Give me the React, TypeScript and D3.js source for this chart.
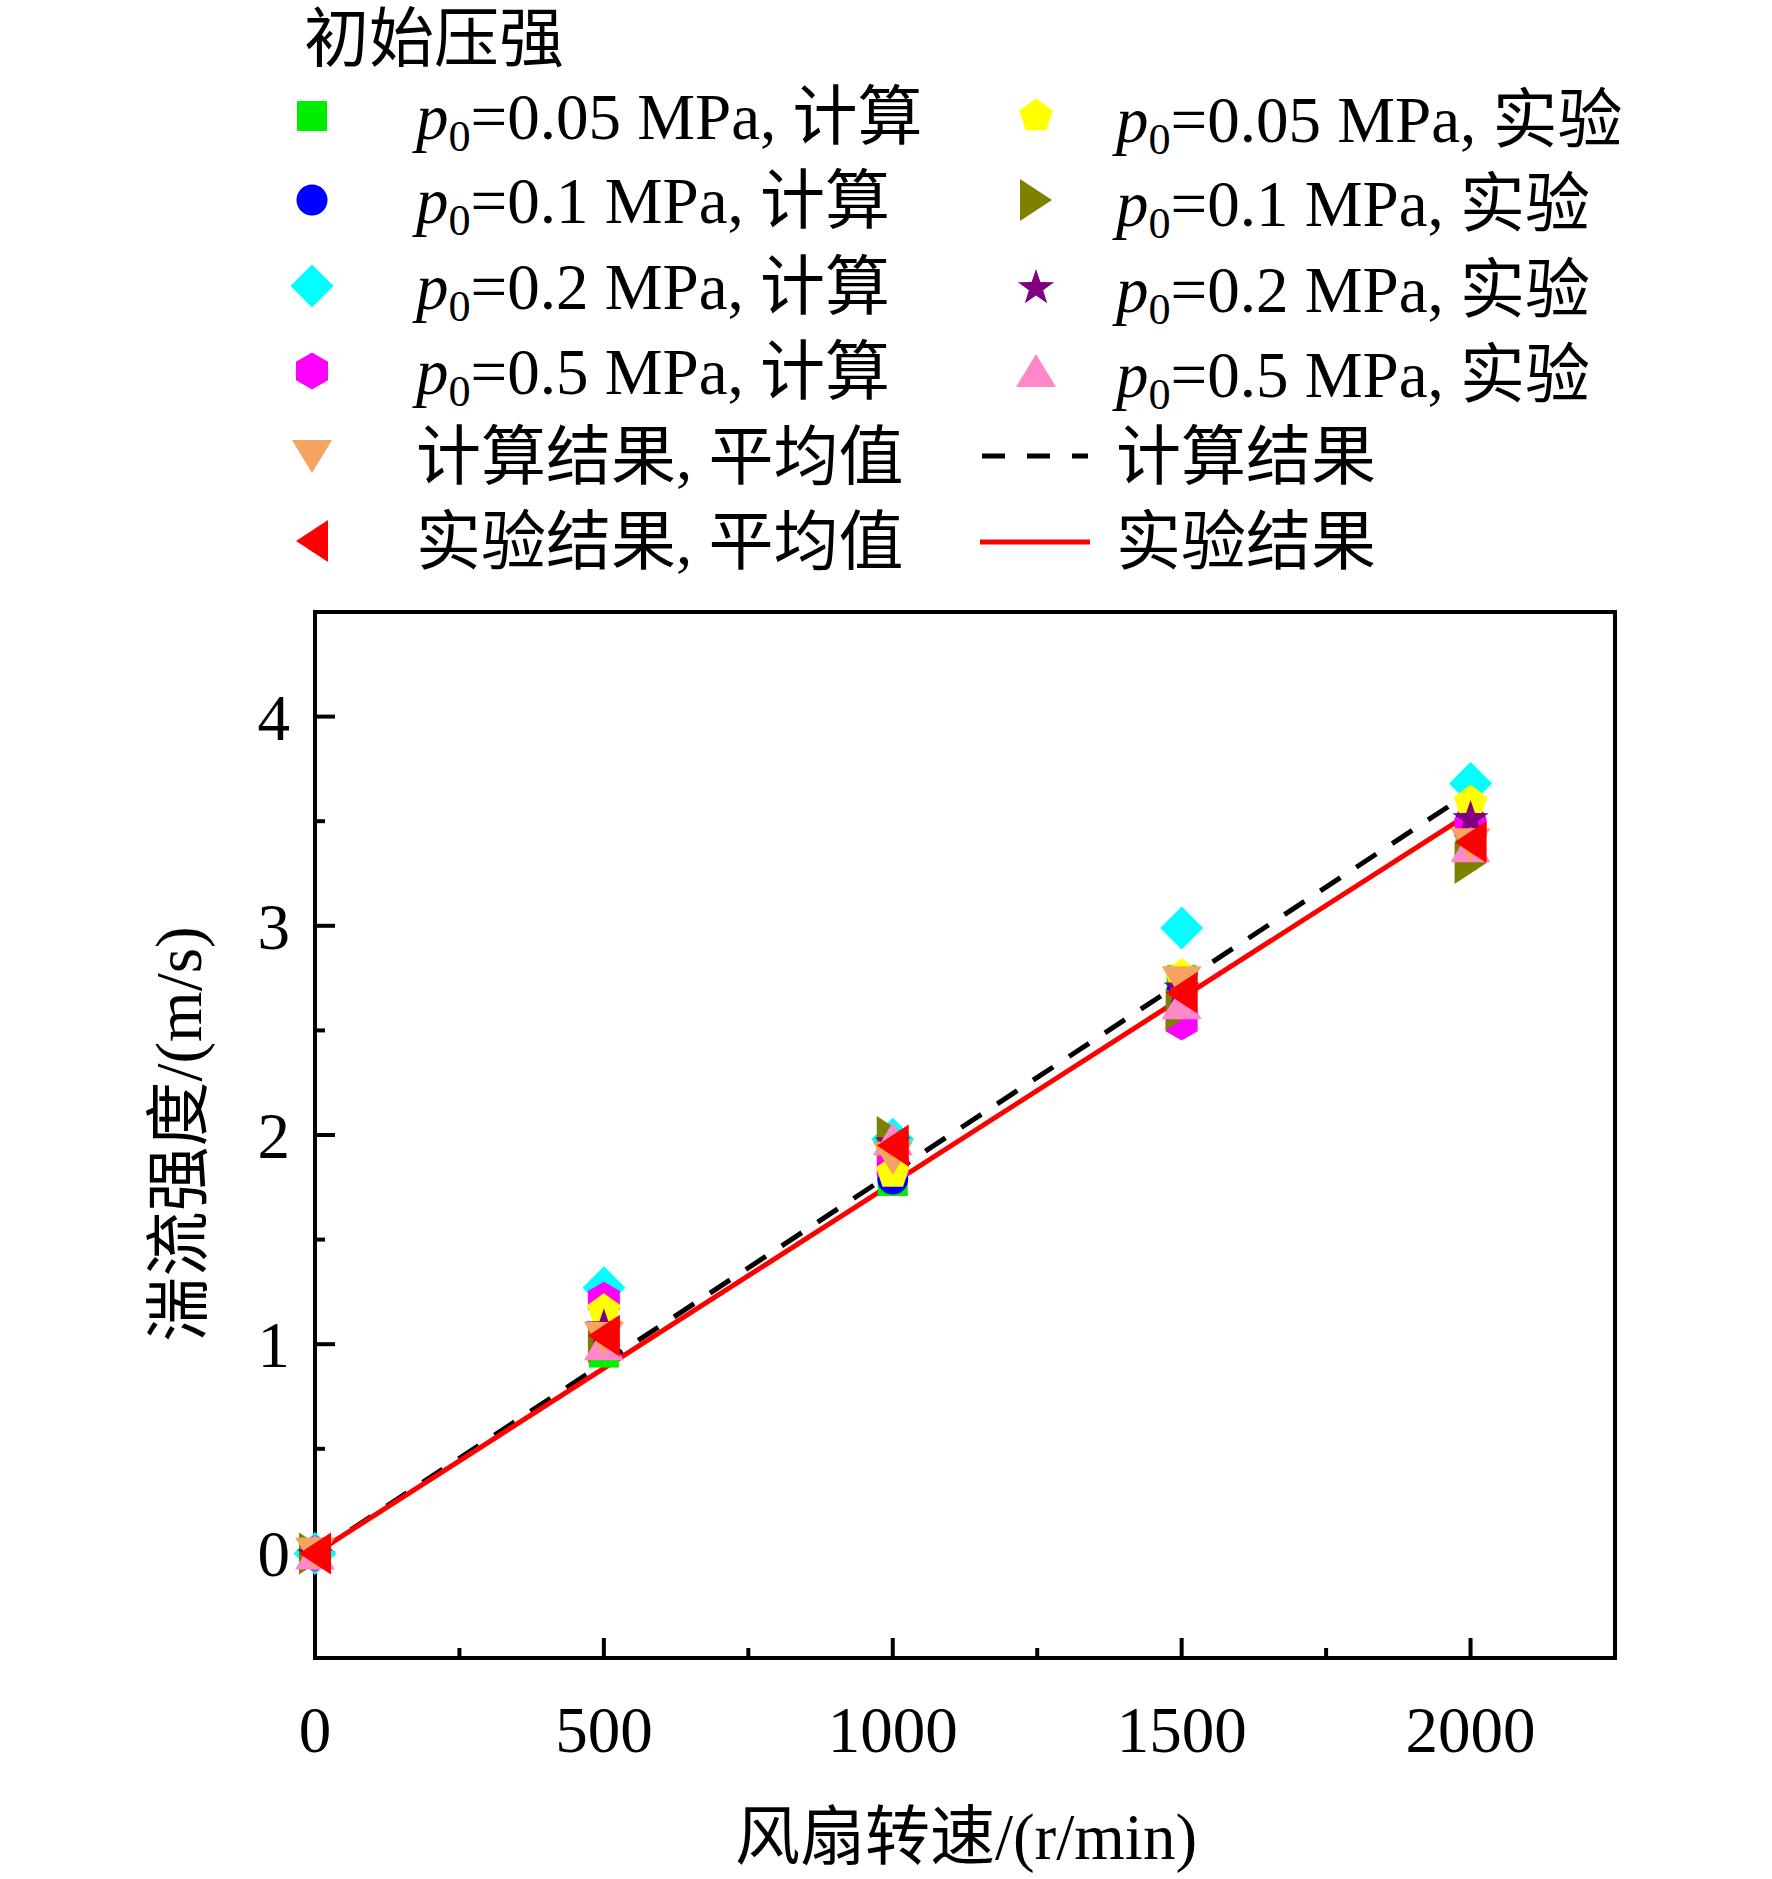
import React from "react";
import * as d3 from "d3";

const speeds = [0, 500, 1000, 1500, 2000];
const calc005 = [0, 0.96, 1.78, 2.74, 3.45];
const calc01 = [0, 1.0, 1.79, 2.68, 3.5];
const calc02 = [0, 1.27, 1.98, 2.99, 3.68];
const calc05 = [0, 1.21, 1.85, 2.54, 3.47];
const exp005 = [0, 1.16, 1.82, 2.76, 3.59];
const exp01 = [0, 1.01, 1.99, 2.6, 3.3];
const exp02 = [0, 1.09, 1.97, 2.71, 3.52];
const exp05 = [0, 1.0, 1.98, 2.63, 3.38];
const calcAvg = [0, 1.03, 1.89, 2.73, 3.39];
const expAvg = [0, 1.04, 1.95, 2.68, 3.4];
const calcFitX = [0, 2000];
const calcFitY = [0, 3.64];
const expFitX = [0, 2000];
const expFitY = [0, 3.54];

const xTicks = [0, 500, 1000, 1500, 2000];
const xMinor = [250, 750, 1250, 1750];
const yTicks = [0, 1, 2, 3, 4];
const yMinor = [-0.5, 0.5, 1.5, 2.5, 3.5];

const legendTitle = "初始压强";
const xTitle = "风扇转速/(r/min)";
const yTitle = "湍流强度/(m/s)";

type Shape = "square" | "circle" | "diamond" | "hexagon" | "pentagon" | "right" | "star" | "up" | "down" | "left";

function markerPath(shape: Shape): string {
  const poly = (pts: [number, number][]) => "M" + pts.map((p) => p.join(",")).join("L") + "Z";
  const reg = (n: number, r: number, rot: number) =>
    poly(d3.range(n).map((i) => {
      const a = rot + (i * 2 * Math.PI) / n;
      return [r * Math.sin(a), -r * Math.cos(a)] as [number, number];
    }));
  switch (shape) {
    case "square":
      return poly([[-15, -15], [15, -15], [15, 15], [-15, 15]]);
    case "circle":
      return d3.arc()({ innerRadius: 0, outerRadius: 15.5, startAngle: 0, endAngle: 2 * Math.PI } as any) || "";
    case "diamond":
      return poly([[0, -21.5], [21.5, 0], [0, 21.5], [-21.5, 0]]);
    case "hexagon":
      return reg(6, 18.5, 0);
    case "pentagon":
      return reg(5, 17.5, 0);
    case "star": {
      const pts: [number, number][] = [];
      for (let i = 0; i < 10; i++) {
        const r = i % 2 === 0 ? 19 : 7.5;
        const a = (i * Math.PI) / 5;
        pts.push([r * Math.sin(a), -r * Math.cos(a) + 2]);
      }
      return poly(pts);
    }
    case "up":
      return poly([[0, -17], [20, 16], [-20, 16]]);
    case "down":
      return poly([[0, 17], [20, -16], [-20, -16]]);
    case "left":
      return poly([[-16, 0], [16, -21], [16, 21]]);
    case "right":
      return poly([[16, 0], [-16, -21], [-16, 21]]);
  }
}

interface Series { values: number[]; shape: Shape; color: string; }

const series: Series[] = [
  { values: calc005, shape: "square", color: "#00EE00" },
  { values: calc01, shape: "circle", color: "#0000FF" },
  { values: calc02, shape: "diamond", color: "#00FFFF" },
  { values: calc05, shape: "hexagon", color: "#FF00FF" },
  { values: exp005, shape: "pentagon", color: "#FFFF00" },
  { values: exp01, shape: "right", color: "#808000" },
  { values: exp02, shape: "star", color: "#800080" },
  { values: exp05, shape: "up", color: "#FF88C8" },
  { values: calcAvg, shape: "down", color: "#F4A460" },
  { values: expAvg, shape: "left", color: "#FF0000" },
];

const SERIF = "'Liberation Serif', 'Times New Roman', 'Noto Sans CJK SC', serif";
const FS = 65;

function PLabel({ x, y, val, kind }: { x: number; y: number; val: string; kind: string }) {
  return (
    <text x={x} y={y} fontFamily={SERIF} fontSize={FS} fill="#000">
      <tspan fontStyle="italic">p</tspan>
      <tspan fontSize={FS * 0.68} dy={12}>0</tspan>
      <tspan dy={-12}>{"=" + val + " MPa, " + kind}</tspan>
    </text>
  );
}

export default function App() {
  const W = 1772, H = 1879;
  const x = d3.scaleLinear().domain([0, 2250]).range([315, 1615]);
  const y = d3.scaleLinear().domain([-0.5, 4.5]).range([1658, 612]);
  const line = d3.line<[number, number]>().x((d) => x(d[0])).y((d) => y(d[1]));
  const calcLine = line(calcFitX.map((v, i) => [v, calcFitY[i]] as [number, number])) || "";
  const expLine = line(expFitX.map((v, i) => [v, expFitY[i]] as [number, number])) || "";

  const rowY = [116, 200, 286, 371, 456, 541];
  const c1m = 312, c1t = 416, c2m = 1036, c2t = 1116;
  const base = 23;

  return (
    <svg width={W} height={H} style={{ position: "absolute", left: 0, top: 0, background: "#fff" }}>
      <rect x={0} y={0} width={W} height={H} fill="#fff" />
      {/* legend */}
      <text x={304} y={61} fontFamily={SERIF} fontSize={FS}>{legendTitle}</text>
      {series.slice(0, 4).map((s, i) => (
        <path key={"l1" + i} d={markerPath(s.shape)} transform={`translate(${c1m},${rowY[i]})`} fill={s.color} />
      ))}
      <path d={markerPath(series[8].shape)} transform={`translate(${c1m},${rowY[4]})`} fill={series[8].color} />
      <path d={markerPath(series[9].shape)} transform={`translate(${c1m},${rowY[5]})`} fill={series[9].color} />
      {series.slice(4, 8).map((s, i) => (
        <path key={"l2" + i} d={markerPath(s.shape)} transform={`translate(${c2m},${rowY[i]})`} fill={s.color} />
      ))}
      <PLabel x={c1t} y={rowY[0] + base} val="0.05" kind="计算" />
      <PLabel x={c1t} y={rowY[1] + base} val="0.1" kind="计算" />
      <PLabel x={c1t} y={rowY[2] + base} val="0.2" kind="计算" />
      <PLabel x={c1t} y={rowY[3] + base} val="0.5" kind="计算" />
      <text x={c1t} y={rowY[4] + base} fontFamily={SERIF} fontSize={FS}>计算结果, 平均值</text>
      <text x={c1t} y={rowY[5] + base} fontFamily={SERIF} fontSize={FS}>实验结果, 平均值</text>
      <PLabel x={c2t} y={rowY[0] + base + 3} val="0.05" kind="实验" />
      <PLabel x={c2t} y={rowY[1] + base + 3} val="0.1" kind="实验" />
      <PLabel x={c2t} y={rowY[2] + base + 3} val="0.2" kind="实验" />
      <PLabel x={c2t} y={rowY[3] + base + 3} val="0.5" kind="实验" />
      <line x1={982} x2={1088} y1={rowY[4]} y2={rowY[4]} stroke="#000" strokeWidth={5} strokeDasharray="23,22" />
      <text x={c2t} y={rowY[4] + base} fontFamily={SERIF} fontSize={FS}>计算结果</text>
      <line x1={980} x2={1090} y1={rowY[5] + 1} y2={rowY[5] + 1} stroke="#FF0000" strokeWidth={5} />
      <text x={c2t} y={rowY[5] + base} fontFamily={SERIF} fontSize={FS}>实验结果</text>

      {/* frame */}
      <rect x={x(0)} y={y(4.5)} width={x(2250) - x(0)} height={y(-0.5) - y(4.5)} fill="none" stroke="#000" strokeWidth={4} />
      {xTicks.map((t) => (
        <g key={"xt" + t}>
          <line x1={x(t)} x2={x(t)} y1={y(-0.5)} y2={y(-0.5) - 20} stroke="#000" strokeWidth={4} />
          <text x={x(t)} y={1752} textAnchor="middle" fontFamily={SERIF} fontSize={FS}>{t}</text>
        </g>
      ))}
      {xMinor.map((t) => (
        <line key={"xm" + t} x1={x(t)} x2={x(t)} y1={y(-0.5)} y2={y(-0.5) - 10} stroke="#000" strokeWidth={4} />
      ))}
      {yTicks.map((t) => (
        <g key={"yt" + t}>
          <line x1={x(0)} x2={x(0) + 20} y1={y(t)} y2={y(t)} stroke="#000" strokeWidth={4} />
          <text x={290} y={y(t) + 23} textAnchor="end" fontFamily={SERIF} fontSize={FS}>{t}</text>
        </g>
      ))}
      {yMinor.map((t) => (
        <line key={"ym" + t} x1={x(0)} x2={x(0) + 10} y1={y(t)} y2={y(t)} stroke="#000" strokeWidth={4} />
      ))}

      {/* lines */}
      <path d={calcLine} fill="none" stroke="#000" strokeWidth={5} strokeDasharray="24,19" />
      <path d={expLine} fill="none" stroke="#FF0000" strokeWidth={5} />

      {/* markers */}
      {series.map((s, si) => (
        <g key={"s" + si}>
          {s.values.map((v, i) => (
            <path key={i} d={markerPath(s.shape)} transform={`translate(${x(speeds[i])},${y(v)})`} fill={s.color} />
          ))}
        </g>
      ))}

      {/* axis titles */}
      <text x={966} y={1859} textAnchor="middle" fontFamily={SERIF} fontSize={FS}>{xTitle}</text>
      <text transform={`translate(${201},${1134}) rotate(-90)`} textAnchor="middle" fontFamily={SERIF} fontSize={FS}>{yTitle}</text>
    </svg>
  );
}
